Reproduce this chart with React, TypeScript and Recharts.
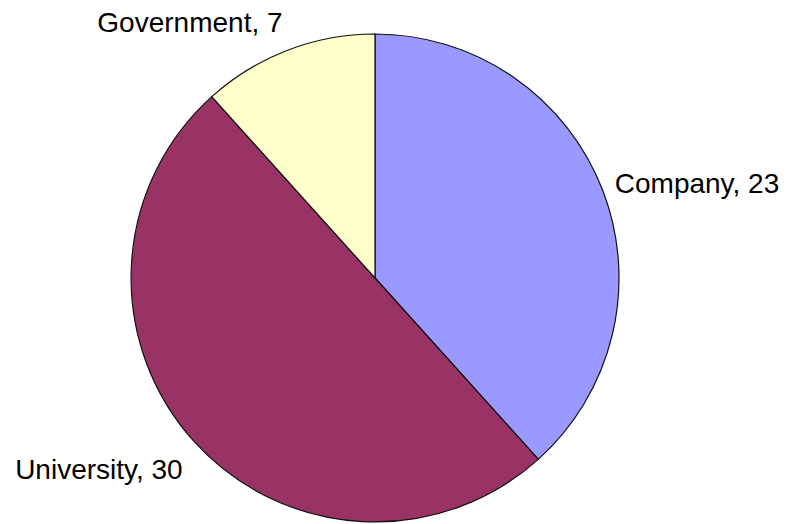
import React from "react";
import { PieChart, Pie, Cell } from "recharts";

const categories = ["Company", "University", "Government"];
const values = [23, 30, 7];
const colors = ["#9999FF", "#993366", "#FFFFCC"];

const data = categories.map((name, i) => ({ name, value: values[i] }));

// label placement nudges (layout only)
const labelNudge = [
  { dx: 12, dy: 2, anchor: "start" },
  { dx: -11, dy: 38, anchor: "end" },
  { dx: -5, dy: -18, anchor: "end" },
];

const RAD = Math.PI / 180;

const renderLabel = (props: any) => {
  const { cx, cy, midAngle, outerRadius, index, name, value } = props;
  const px = cx + outerRadius * Math.cos(-midAngle * RAD);
  const py = cy + outerRadius * Math.sin(-midAngle * RAD);
  const n = labelNudge[index];
  return (
    <text
      x={px + n.dx}
      y={py + n.dy}
      textAnchor={n.anchor}
      fill="#000"
      fontSize={28}
      fontFamily="'Liberation Sans', Arial, sans-serif"
    >
      {`${name}, ${value}`}
    </text>
  );
};

export default function App() {
  return (
    <div style={{ position: "absolute", left: 0, top: 0, width: 786, height: 524, background: "#fff" }}>
      <PieChart width={786} height={524} margin={{ top: 0, right: 0, bottom: 0, left: 0 }}>
        <Pie
          data={data}
          dataKey="value"
          nameKey="name"
          cx={375}
          cy={278}
          outerRadius={244}
          startAngle={90}
          endAngle={-270}
          stroke="#111"
          strokeWidth={1.2}
          label={renderLabel}
          labelLine={false}
          isAnimationActive={false}
        >
          {data.map((d, i) => (
            <Cell key={d.name} fill={colors[i]} />
          ))}
        </Pie>
      </PieChart>
    </div>
  );
}
